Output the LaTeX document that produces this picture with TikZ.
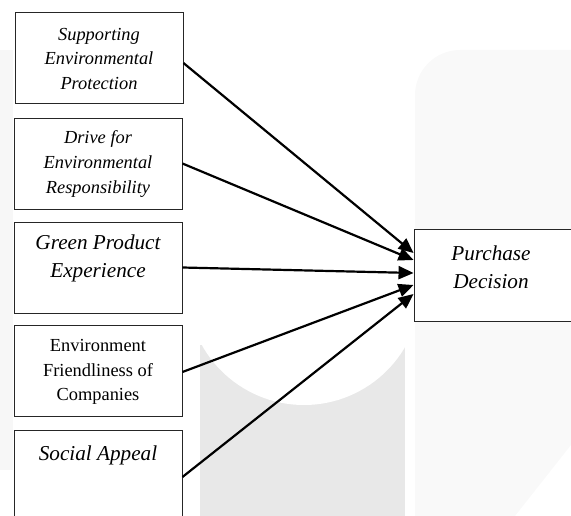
\documentclass[tikz,border=0pt]{standalone}
\usepackage{fontspec}
\setmainfont{Liberation Serif}
\usetikzlibrary{arrows.meta,calc}
\tikzset{
  box/.style={draw=black!85, line width=0.9pt, minimum width=168pt, minimum height=91pt, inner sep=0pt, fill=white},
  small/.style={font=\fontsize{18.4}{25}\selectfont\itshape, align=center, inner sep=0pt},
  smallup/.style={font=\fontsize{18.4}{24.5}\selectfont, align=center, inner sep=0pt},
  large/.style={font=\fontsize{21.2}{28}\selectfont\itshape, align=center, inner sep=0pt},
  link/.style={line width=2.2pt, -{Triangle[length=15pt,width=13pt]}},
}
\begin{document}
\begin{tikzpicture}[x=1pt,y=-1pt]
\useasboundingbox (0,0) rectangle (571,516);
\clip (0,0) rectangle (571,516);
% faint watermark background
\fill[black!3] (0,50) rectangle (13,470);
\begin{scope}
  \clip (200,345) rectangle (405,516);
  \fill[black!9] (200,345) rectangle (405,516);
  \fill[white] (304,288) circle[radius=117];
\end{scope}
\fill[black!2.5] (415,95) arc[start angle=180,end angle=270,radius=45] -- (571,50) -- (571,445) -- (515,516) -- (415,516) -- cycle;
% boxes
\node[box] (b1) at (99,57.5) {};
\node[small] (t1) at (99,59) {Supporting\\Environmental\\Protection};
\node[box] (b2) at (98,163.5) {};
\node[small] (t2) at (98,164) {Drive for\\Environmental\\Responsibility};
\node[box] (b3) at (98,267.5) {};
\node[large] (t3) at (98,258) {Green Product\\Experience};
\node[box] (b4) at (98,370.5) {};
\node[smallup] (t4) at (98,372) {Environment\\Friendliness of\\Companies};
\node[box] (b5) at (98,475.5) {};
\node[large] (t5) at (98,455) {Social Appeal};
\node[box, minimum width=170pt, minimum height=92pt] (pd) at (499,275) {};
\node[large] (tp) at (491,267.5) {Purchase\\Decision};
% arrows
\draw[link] ([yshift=-5.5pt]b1.east) -- ([yshift=22pt]pd.west);
\draw[link] (b2.east) -- ([yshift=15pt]pd.west);
\draw[link] (b3.east) -- ([yshift=2pt]pd.west);
\draw[link] ([yshift=-1.5pt]b4.east) -- ([yshift=-10pt]pd.west);
\draw[link] ([yshift=-1.5pt]b5.east) -- ([yshift=-19pt]pd.west);
\end{tikzpicture}
\end{document}
